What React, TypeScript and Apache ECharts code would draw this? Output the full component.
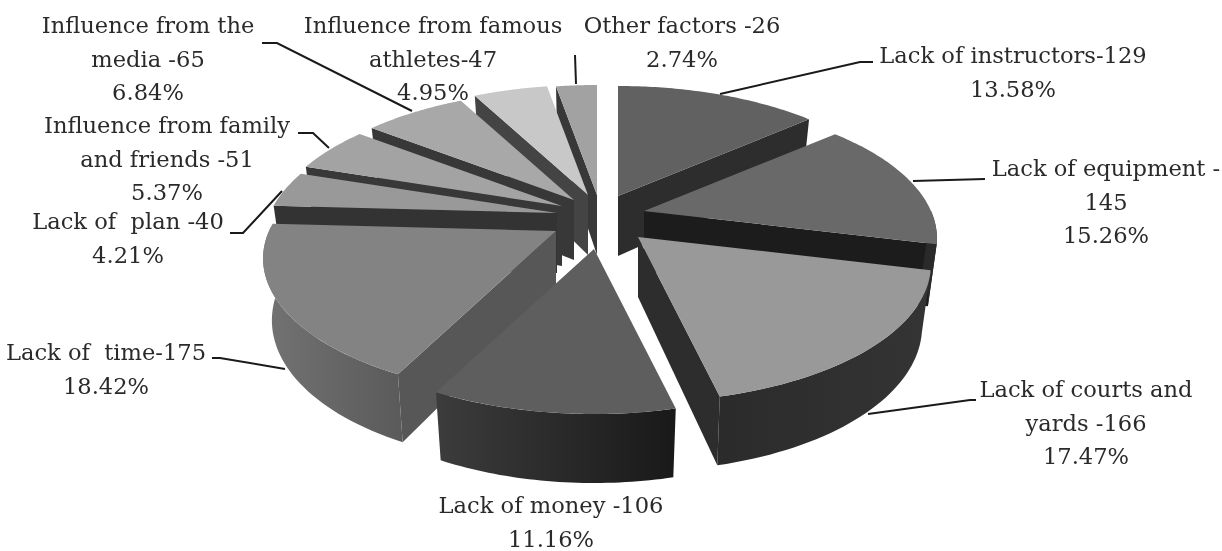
import React, { useEffect, useRef } from "react";
import * as echarts from "echarts";

const categories = ["Lack of instructors", "Lack of equipment", "Lack of courts and yards", "Lack of money", "Lack of time", "Lack of plan", "Influence from family and friends", "Influence from the media", "Influence from famous athletes", "Other factors"];
const values = [129, 145, 166, 106, 175, 40, 51, 65, 47, 26];
const labelTexts = [
  "Lack of instructors-129\n13.58%",
  "Lack of equipment -\n145\n15.26%",
  "Lack of courts and\nyards -166\n17.47%",
  "Lack of money -106\n11.16%",
  "Lack of  time-175\n18.42%",
  "Lack of  plan -40\n4.21%",
  "Influence from family\nand friends -51\n5.37%",
  "Influence from the\nmedia -65\n6.84%",
  "Influence from famous\nathletes-47\n4.95%",
  "Other factors -26\n2.74%",
];
const labelCenterX = [1013, 1106, 1086, 551, 106, 128, 167, 148, 433, 682];
const labelCenterY = [55, 168, 389, 505, 352, 221, 125, 25, 25, 25];
const leaders = [
  [[720, 94], [860, 62], [873, 62]],
  [[913, 181], [985, 179]],
  [[868, 414], [970, 400], [976, 400]],
  [],
  [[285, 369], [220, 358], [212, 358]],
  [[282, 191], [243, 233], [230, 233]],
  [[329, 148], [313, 133], [298, 133]],
  [[412, 111], [277, 43], [262, 43]],
  [],
  [[576, 84], [575, 55]],
];

// draw back-to-front
const drawOrder = [9, 8, 7, 6, 5, 0, 1, 4, 2, 3];
const explodeX = [18, 44, 38, -6, -44, -43, -38, -26, -12, -3];
const explodeY = [-29, -14, 12, 24, 6, -12, -19, -25, -30, -30];
const topColors = ["#616161", "#696969", "#999999", "#5e5e5e", "#838383", "#999999", "#a3a3a3", "#a8a8a8", "#c8c8c8", "#a2a2a2"];
const wallColors = ["#2d2d2d", "#1c1c1c", "#2d2d2d", "#2a2a2a", "#575757", "#333333", "#383838", "#383838", "#444444", "#383838"];
const arcFrom = ["#2d2d2d", "#2a2a2a", "#343434", "#3c3c3c", "#737373", "#333333", "#383838", "#383838", "#444444", "#383838"];
const arcTo = ["#2d2d2d", "#2a2a2a", "#2b2b2b", "#191919", "#5a5a5a", "#333333", "#383838", "#383838", "#444444", "#383838"];

const CX = 600, CY = 225, RX = 287, RY = 132, PERSP = 0.2, BOTTOM_SCALE = 0.97;
const DEG = Math.PI / 180;
const total = values.reduce((a, b) => a + b, 0);

function project(deg: number, ox: number, oy: number) {
  const u = Math.sin(deg * DEG), v = Math.cos(deg * DEG);
  const s = 1 / (1 + PERSP * v);
  return { x: CX + ox + u * RX * s, y: CY + oy - v * RY * s, depth: 60 - 9 * v };
}

function renderSlice(_p: any, api: any) {
  const i = api.value(0) as number;
  let before = 0;
  for (let k = 0; k < i; k++) before += values[k];
  const a0 = (before / total) * 360;
  const a1 = ((before + (api.value(1) as number)) / total) * 360;
  const ox = explodeX[i], oy = explodeY[i];
  const tx = CX + ox, ty = CY + oy;
  const tipDepth = 60;
  const children: any[] = [];
  const lowerX = (x: number) => tx + (x - tx) * BOTTOM_SCALE;
  const wall = (deg: number) => {
    const p = project(deg, ox, oy);
    children.push({
      type: "polygon",
      shape: { points: [[tx, ty], [p.x, p.y], [lowerX(p.x), p.y + p.depth], [tx, ty + tipDepth]] },
      style: { fill: wallColors[i] },
    });
  };
  if (a0 > 180) wall(a0);
  if (a1 < 180) wall(a1);
  const from = Math.max(a0, 90), to = Math.min(a1, 272);
  if (to > from) {
    const upper: number[][] = [], lower: number[][] = [];
    for (let k = 0; k <= 40; k++) {
      const p = project(from + ((to - from) * k) / 40, ox, oy);
      upper.push([p.x, p.y]);
      lower.unshift([lowerX(p.x), p.y + p.depth]);
    }
    children.push({
      type: "polygon",
      shape: { points: upper.concat(lower) },
      style: {
        fill: new echarts.graphic.LinearGradient(0, 0, 1, 0, [
          { offset: 0, color: a0 > 150 ? arcFrom[i] : arcTo[i] },
          { offset: 1, color: a0 > 150 ? arcTo[i] : arcFrom[i] },
        ]),
      },
    });
  }
  const top: number[][] = [[tx, ty]];
  for (let k = 0; k <= 60; k++) {
    const p = project(a0 + ((a1 - a0) * k) / 60, ox, oy);
    top.push([p.x, p.y]);
  }
  children.push({ type: "polygon", shape: { points: top }, style: { fill: topColors[i] } });
  return { type: "group", children };
}

const FONT = '"DejaVu Serif", serif';
const LINE = 33.5;

function buildGraphics() {
  const out: any[] = [];
  labelTexts.forEach((t, i) => {
    t.split("\n").forEach((line, j) => {
      out.push({
        type: "text",
        x: labelCenterX[i],
        y: labelCenterY[i] + j * LINE,
        z: 20,
        style: { text: line, fill: "#2a2a2a", font: `22.6px ${FONT}`, align: "center", verticalAlign: "middle" },
      });
    });
    if (leaders[i].length) {
      out.push({
        type: "polyline",
        z: 10,
        shape: { points: leaders[i] },
        style: { stroke: "#1a1a1a", lineWidth: 2, fill: "none" },
      });
    }
  });
  return out;
}

export default function App() {
  const ref = useRef<HTMLDivElement>(null);
  useEffect(() => {
    const chart = echarts.init(ref.current!, undefined, { renderer: "svg" });
    chart.setOption({
      animation: false,
      backgroundColor: "#ffffff",
      series: [
        {
          type: "custom",
          coordinateSystem: "none",
          renderItem: renderSlice,
          data: drawOrder.map((i) => ({ name: categories[i], value: [i, values[i]] })),
          silent: true,
          z: 5,
        },
      ],
      graphic: buildGraphics(),
    });
    return () => chart.dispose();
  }, []);
  return <div ref={ref} style={{ position: "fixed", left: 0, top: 0, width: 1222, height: 551, filter: "blur(0.6px)" }} />;
}
